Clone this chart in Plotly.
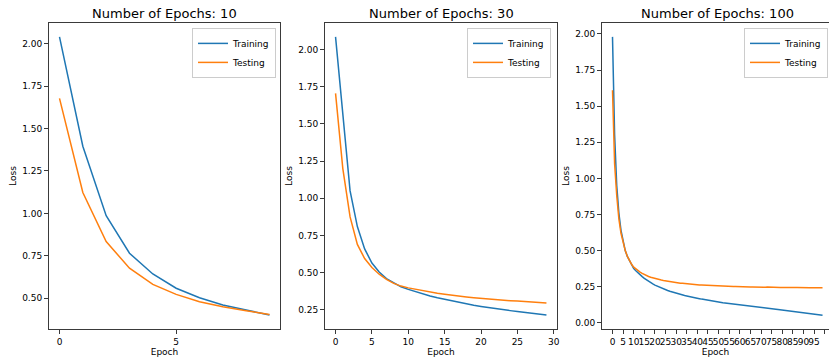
import plotly.graph_objects as go

# ---------------- data ----------------
epochs_10 = list(range(10))
train_10 = [2.039, 1.395, 0.986, 0.765, 0.643, 0.559, 0.503, 0.460, 0.431, 0.401]
test_10 = [1.677, 1.123, 0.834, 0.677, 0.582, 0.523, 0.480, 0.450, 0.427, 0.405]

epochs_30 = list(range(30))
train_30 = [2.085, 1.55, 1.05, 0.81, 0.66, 0.565, 0.505, 0.46, 0.43, 0.405,
            0.388, 0.372, 0.357, 0.343, 0.331, 0.32, 0.309, 0.299, 0.29, 0.281,
            0.273, 0.265, 0.258, 0.251, 0.245, 0.239, 0.233, 0.227, 0.222, 0.216]
test_30 = [1.705, 1.2, 0.875, 0.69, 0.595, 0.535, 0.49, 0.455, 0.428, 0.41,
           0.398, 0.388, 0.378, 0.37, 0.362, 0.355, 0.348, 0.342, 0.337, 0.332,
           0.327, 0.323, 0.319, 0.315, 0.312, 0.309, 0.306, 0.303, 0.3, 0.297]

epochs_100 = list(range(100))
train_100 = [1.98, 1.30, 0.95, 0.76, 0.64, 0.56, 0.50, 0.46, 0.43, 0.40,
             0.375, 0.36, 0.345, 0.332, 0.32, 0.308, 0.297, 0.287, 0.278, 0.269,
             0.261, 0.254, 0.247, 0.241, 0.235, 0.229, 0.224, 0.219, 0.214, 0.209,
             0.205, 0.201, 0.197, 0.193, 0.189, 0.186, 0.182, 0.179, 0.176, 0.173,
             0.170, 0.167, 0.164, 0.161, 0.158, 0.156, 0.153, 0.151, 0.148, 0.146,
             0.144, 0.141, 0.139, 0.137, 0.135, 0.133, 0.131, 0.129, 0.127, 0.125,
             0.123, 0.121, 0.119, 0.117, 0.115, 0.113, 0.112, 0.110, 0.108, 0.106,
             0.105, 0.103, 0.101, 0.100, 0.098, 0.097, 0.095, 0.094, 0.092, 0.090,
             0.088, 0.086, 0.084, 0.082, 0.080, 0.078, 0.076, 0.075, 0.073, 0.071,
             0.069, 0.067, 0.066, 0.064, 0.062, 0.060, 0.058, 0.057, 0.055, 0.053]
test_100 = [1.61, 1.10, 0.88, 0.72, 0.62, 0.555, 0.50, 0.46, 0.43, 0.405,
            0.385, 0.372, 0.361, 0.351, 0.342, 0.334, 0.327, 0.321, 0.316, 0.311,
            0.307, 0.303, 0.299, 0.296, 0.293, 0.290, 0.287, 0.285, 0.282, 0.280,
            0.278, 0.276, 0.274, 0.273, 0.271, 0.269, 0.268, 0.266, 0.265, 0.264,
            0.263, 0.262, 0.261, 0.260, 0.259, 0.258, 0.258, 0.257, 0.256, 0.256,
            0.255, 0.254, 0.254, 0.253, 0.253, 0.252, 0.252, 0.251, 0.251, 0.250,
            0.250, 0.249, 0.250, 0.249, 0.248, 0.248, 0.248, 0.247, 0.248, 0.247,
            0.247, 0.246, 0.246, 0.247, 0.246, 0.245, 0.246, 0.245, 0.245, 0.244,
            0.245, 0.244, 0.244, 0.245, 0.244, 0.243, 0.244, 0.244, 0.243, 0.244,
            0.243, 0.243, 0.244, 0.243, 0.243, 0.242, 0.243, 0.243, 0.242, 0.243]

titles = ["Number of Epochs: 10", "Number of Epochs: 30", "Number of Epochs: 100"]
series_names = ["Training", "Testing"]

# ---------------- styling ----------------
FONT = "DejaVu Sans"
BLUE = "#1f77b4"
ORANGE = "#ff7f0e"
SPINE = "#3a3a3a"

W, H = 829, 357
ML, MR, MT, MB = 49, 0, 23, 357 - 329
PW = W - ML - MR

def frac(px):
    """page pixel -> paper fraction"""
    return (px - ML) / PW

domains = [[frac(49), frac(280)], [frac(325), frac(557)], [frac(602), 1.0]]
xranges = [[-0.45, 9.45], [-1.45, 30.45], [-4.95, 102.05]]
yranges = [[0.319, 2.121], [0.1215, 2.1785], [-0.043, 2.076]]
xdticks = [5, 5, 5]
legend_right = [frac(276), frac(551), frac(828)]
title_centers = [frac(164.5), frac(441), frac(717.5)]

data = [(epochs_10, train_10, test_10),
        (epochs_30, train_30, test_30),
        (epochs_100, train_100, test_100)]

fig = go.Figure()
for i, (ep, tr, te) in enumerate(data):
    sfx = "" if i == 0 else str(i + 1)
    leg = "legend" if i == 0 else f"legend{i + 1}"
    fig.add_trace(go.Scatter(x=ep, y=tr, mode="lines", name=series_names[0],
                             line=dict(color=BLUE, width=1.5),
                             xaxis="x" + sfx, yaxis="y" + sfx, legend=leg))
    fig.add_trace(go.Scatter(x=ep, y=te, mode="lines", name=series_names[1],
                             line=dict(color=ORANGE, width=1.5),
                             xaxis="x" + sfx, yaxis="y" + sfx, legend=leg))

layout = dict(
    width=W, height=H,
    margin=dict(l=ML, r=MR, t=MT, b=MB, pad=0),
    paper_bgcolor="white", plot_bgcolor="white",
    font=dict(family=FONT, size=9, color="#000000"),
    annotations=[],
)

for i in range(3):
    sfx = "" if i == 0 else str(i + 1)
    xa = dict(domain=domains[i], range=xranges[i], anchor="y" + sfx,
              tickmode="linear", tick0=0, dtick=xdticks[i], tickangle=0,
              showgrid=False, zeroline=False, showline=True, mirror=True,
              linecolor=SPINE, linewidth=1, ticks="outside", ticklen=4,
              tickwidth=1, tickcolor=SPINE, tickfont=dict(size=9),
              title=dict(text="Epoch", font=dict(size=9), standoff=3),
              automargin=False)
    ya = dict(domain=[0, 1], range=yranges[i], anchor="x" + sfx,
              tickmode="linear", tick0=0, dtick=0.25, tickformat=".2f",
              showgrid=False, zeroline=False, showline=True,
              mirror=(i < 2), linecolor=SPINE, linewidth=1,
              ticks="outside", ticklen=4, tickwidth=1, tickcolor=SPINE,
              tickfont=dict(size=9),
              title=dict(text="Loss", font=dict(size=9), standoff=4),
              automargin=False)
    layout["xaxis" + sfx] = xa
    layout["yaxis" + sfx] = ya
    leg = "legend" if i == 0 else f"legend{i + 1}"
    layout[leg] = dict(x=legend_right[i], y=0.984, xanchor="right", yanchor="top",
                       xref="paper", yref="paper",
                       bgcolor="rgba(255,255,255,0.8)", bordercolor="#cccccc",
                       borderwidth=1, font=dict(size=9, family=FONT),
                       itemwidth=30, tracegroupgap=0)
    layout["annotations"].append(dict(
        text=titles[i], xref="paper", yref="paper", x=title_centers[i], y=1.0,
        xanchor="center", yanchor="bottom", yshift=0, showarrow=False,
        font=dict(size=13, family=FONT, color="#000000")))

fig.update_layout(**layout)
fig.write_html("out.html",
               config={"displayModeBar": False},
               post_script="document.body.style.margin='0';"
                           "document.body.style.overflow='hidden';")
